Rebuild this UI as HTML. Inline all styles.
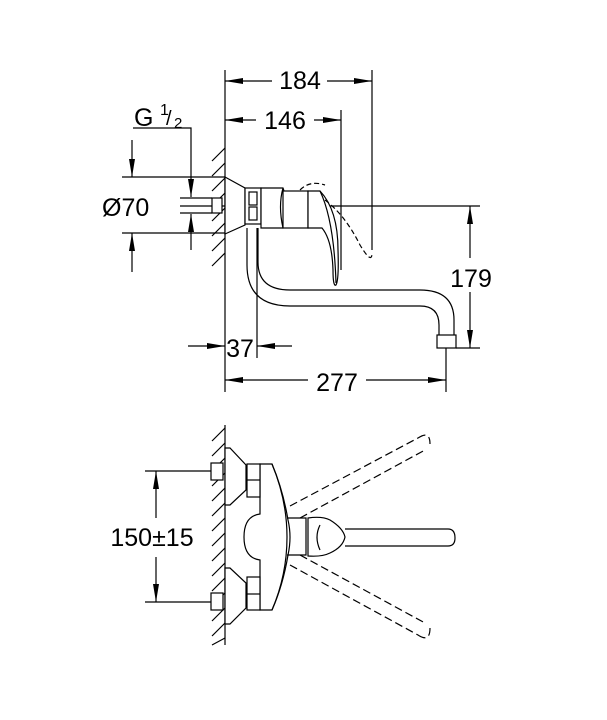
<!DOCTYPE html>
<html><head><meta charset="utf-8"><style>
html,body{margin:0;padding:0;background:#fff}
svg{display:block}
text{font-family:"Liberation Sans",sans-serif;fill:#000}
</style></head><body>
<svg width="607" height="720" viewBox="0 0 607 720" xmlns="http://www.w3.org/2000/svg">
<g stroke="#000" fill="none" stroke-width="1.2">
<line x1="225" y1="70" x2="225" y2="392"/>
<line x1="372" y1="70" x2="372" y2="250"/>
<line x1="341" y1="110" x2="341" y2="270"/>
<line x1="225" y1="81" x2="272" y2="81"/>
<line x1="327" y1="81" x2="372" y2="81"/>
<line x1="225" y1="120" x2="256" y2="120"/>
<line x1="314" y1="120" x2="341" y2="120"/>
<polyline points="133,128 191,128 191,197"/>
<line x1="191" y1="250" x2="191" y2="214"/>
<line x1="132" y1="140" x2="132" y2="177"/>
<line x1="132" y1="272" x2="132" y2="233"/>
<line x1="122" y1="177" x2="225" y2="177"/>
<line x1="122" y1="233" x2="225" y2="233"/>
<line x1="180" y1="198" x2="212" y2="198"/>
<line x1="180" y1="213" x2="212" y2="213"/>
<line x1="180" y1="206" x2="480" y2="206"/>
<line x1="470" y1="206" x2="470" y2="258"/>
<line x1="470" y1="292" x2="470" y2="348"/>
<line x1="456" y1="348" x2="480" y2="348"/>
<line x1="257" y1="228" x2="257" y2="358"/>
<line x1="188" y1="346" x2="225" y2="346"/>
<line x1="292" y1="346" x2="257" y2="346"/>
<line x1="446" y1="348" x2="446" y2="392"/>
<line x1="225" y1="380" x2="308" y2="380"/>
<line x1="366" y1="380" x2="446" y2="380"/>
<path d="M225,148 L212,161 M225,163 L212,176 M225,178 L212,191 M225,193 L212,206 M225,208 L212,221 M225,223 L212,236 M225,238 L212,251 M225,253 L212,266"/>
<rect x="212" y="198" width="10" height="15" fill="#fff"/>
<polygon points="225,177 245,188 245,225 225,234" fill="#fff"/>
<rect x="245" y="188" width="16" height="36" fill="#fff"/>
<rect x="249" y="192" width="8" height="13"/><rect x="249" y="207" width="8" height="13"/>
<path d="M261,188 L283,188 Q290,206 283,228 L261,228 Z" fill="#fff"/>
<path d="M283,188 Q278,206 283,228"/>
<rect x="283" y="191" width="25" height="37" fill="#fff"/>
<path d="M308,191 L320,191 Q338,210 338,250 Q339,280 336,285 Q333,287 333,270 Q332,240 322,228 L308,228 Z" fill="#fff"/>
<path d="M320,191 Q334,220 336,283" />
<path d="M300,190 Q310,180 325,185 M325,200 Q345,215 360,245 Q372,265 372,253" stroke-dasharray="5,3"/>
<path d="M247,228 L247,265 Q247,306 290,306 L420,306 Q439,306 439,325 L439,335"/>
<path d="M258,228 L258,262 Q258,290 290,290 L420,290 Q454,290 454,320 L454,335"/>
<rect x="437" y="335" width="19" height="13" fill="#fff"/>
<line x1="225" y1="425" x2="225" y2="645"/>
<path d="M225,428 L212,441 M225,443 L212,456 M225,458 L212,471 M225,473 L212,486 M225,488 L212,501 M225,503 L212,516 M225,518 L212,531 M225,533 L212,546 M225,548 L212,561 M225,563 L212,576 M225,578 L212,591 M225,593 L212,606 M225,608 L212,621 M225,623 L212,636 M225,638 L212,645"/>
<rect x="211" y="463" width="12" height="17" fill="#fff"/>
<rect x="211" y="593" width="12" height="17" fill="#fff"/>
<line x1="145" y1="471" x2="211" y2="471"/>
<line x1="145" y1="602" x2="211" y2="602"/>
<line x1="156" y1="471" x2="156" y2="518"/>
<line x1="156" y1="557" x2="156" y2="602"/>
<polygon points="225,448 230,448 246,465 246,490 230,505 225,505" fill="#fff"/>
<polygon points="225,568 230,568 246,583 246,608 230,624 225,624" fill="#fff"/>
<path d="M260,464 L272,464 Q283,490 288,520 Q292,537 288,555 Q283,585 272,610 L260,610 L260,560 Q244,558 244,537 Q244,516 260,514 Z" fill="#fff"/>
<path d="M272,464 Q287,500 287,537 Q287,575 272,610"/>
<rect x="247" y="464" width="13" height="33" fill="#fff"/>
<rect x="247" y="577" width="13" height="33" fill="#fff"/>
<line x1="247" y1="480" x2="260" y2="480"/><line x1="247" y1="594" x2="260" y2="594"/>
<path d="M287,518 L306,518 L306,555 L287,555 M306,518 L306,555"/>
<path d="M308,518 Q322,516 330,520 Q343,528 345,537 Q343,547 330,553 Q322,557 308,556 Z" fill="#fff"/>
<path d="M320,525 Q314,537 320,550"/>
<path d="M345,529 L448,529 Q455,529 455,538 Q455,546 448,546 L345,546"/>
<path d="M290,506 L418,438 M300,518 L425,450 M290,565 L418,635 M300,555 L425,623 M418,438 Q430,430 430,444 M418,635 Q430,643 430,628" stroke-dasharray="8,4"/>
</g>
<g fill="#000">
<polygon points="225,81 243,78 243,84"/>
<polygon points="372,81 354,78 354,84"/>
<polygon points="225,120 243,117 243,123"/>
<polygon points="341,120 323,117 323,123"/>
<polygon points="191,197 188,179 194,179"/>
<polygon points="191,214 188,232 194,232"/>
<polygon points="132,177 129,159 135,159"/>
<polygon points="132,233 129,251 135,251"/>
<polygon points="470,206 467,224 473,224"/>
<polygon points="470,348 467,330 473,330"/>
<polygon points="225,346 207,343 207,349"/>
<polygon points="257,346 275,343 275,349"/>
<polygon points="225,380 243,377 243,383"/>
<polygon points="446,380 428,377 428,383"/>
<polygon points="156,471 153,489 159,489"/>
<polygon points="156,602 153,584 159,584"/>
</g>
<g font-size="25">
<text x="300" y="89" text-anchor="middle">184</text>
<text x="285" y="129" text-anchor="middle">146</text>
<text x="134" y="126">G</text>
<text x="160" y="115" font-size="16">1</text>
<text x="166" y="125" font-size="20">/</text>
<text x="174" y="128" font-size="15">2</text>
<text x="102" y="216">Ø70</text>
<text x="471" y="287" text-anchor="middle">179</text>
<text x="240" y="357" text-anchor="middle">37</text>
<text x="337" y="391" text-anchor="middle">277</text>
<text x="152" y="546" text-anchor="middle">150±15</text>
</g>
</svg>
</body></html>
